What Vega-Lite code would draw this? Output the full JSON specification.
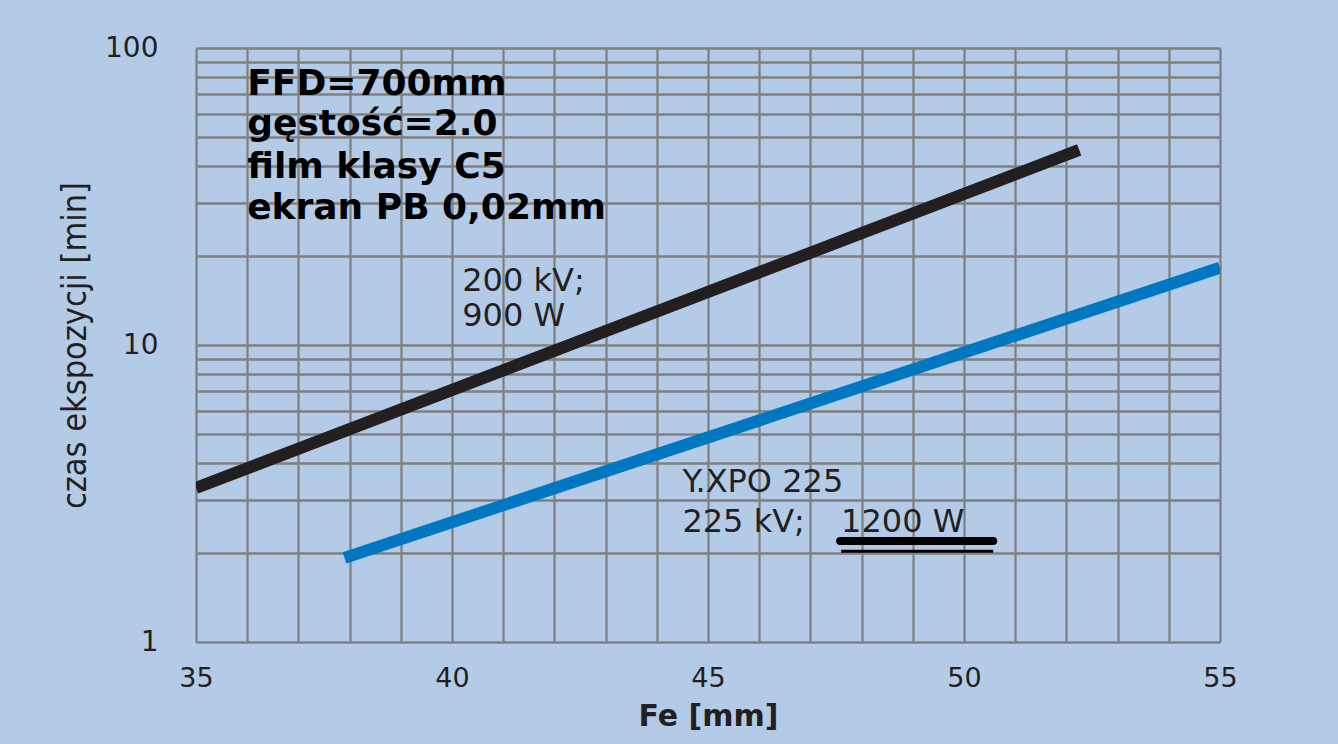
{
  "$schema": "https://vega.github.io/schema/vega-lite/v6.json",
  "width": 1024,
  "height": 594,
  "autosize": {"type": "none"},
  "padding": {"left": 196, "top": 48, "right": 118, "bottom": 102},
  "background": "#b4cbe7",
  "config": {"view": {"stroke": null}, "font": "DejaVu Sans"},
  "datasets": {
    "curves": [
      {"series": "200 kV; 900 W", "fe": 35, "t": 3.3},
      {"series": "200 kV; 900 W", "fe": 52.25, "t": 45.4},
      {"series": "Y.XPO 225; 225 kV; 1200 W", "fe": 37.9, "t": 1.92},
      {"series": "Y.XPO 225; 225 kV; 1200 W", "fe": 55, "t": 18.2}
    ],
    "box": [
      {"label": "FFD=700mm", "fe": 36, "t": 75.9},
      {"label": "gęstość=2.0", "fe": 36, "t": 55.5},
      {"label": "film klasy C5", "fe": 36, "t": 39.7},
      {"label": "ekran PB 0,02mm", "fe": 36, "t": 28.9}
    ],
    "notes": [
      {"label": "200 kV;", "fe": 40.2, "t": 16.4},
      {"label": "900 W", "fe": 40.2, "t": 12.5},
      {"label": "Y.XPO 225", "fe": 44.5, "t": 3.46},
      {"label": "225 kV;", "fe": 44.5, "t": 2.54},
      {"label": "1200 W", "fe": 47.6, "t": 2.54}
    ],
    "underline": [
      {"kind": "thick", "fe": 47.58, "fe2": 50.57, "t": 2.19},
      {"kind": "thin", "fe": 47.6, "fe2": 50.57, "t": 2.02}
    ]
  },
  "encoding": {
    "x": {
      "field": "fe",
      "type": "quantitative",
      "title": "Fe [mm]",
      "scale": {"domain": [35, 55], "nice": false, "zero": false},
      "axis": {
        "values": [35, 36, 37, 38, 39, 40, 41, 42, 43, 44, 45, 46, 47, 48, 49, 50, 51, 52, 53, 54, 55],
        "labelExpr": "datum.value % 5 === 0 ? datum.label : ''",
        "grid": true,
        "gridColor": "#808080",
        "gridWidth": 2.3,
        "gridOpacity": 1,
        "ticks": false,
        "domain": false,
        "labelFont": "DejaVu Sans",
        "labelFontSize": 27,
        "labelColor": "#231f20",
        "labelPadding": 23,
        "labelOverlap": false,
        "labelFlush": false,
        "titleFont": "DejaVu Sans",
        "titleFontWeight": "bold",
        "titleFontSize": 30,
        "titleColor": "#231f20",
        "titlePadding": 10
      }
    },
    "y": {
      "field": "t",
      "type": "quantitative",
      "title": "czas ekspozycji [min]",
      "scale": {"type": "log", "domain": [1, 100], "nice": false},
      "axis": {
        "values": [1, 2, 3, 4, 5, 6, 7, 8, 9, 10, 20, 30, 40, 50, 60, 70, 80, 90, 100],
        "format": "d",
        "labelExpr": "datum.value === 1 || datum.value === 10 || datum.value === 100 ? datum.label : ''",
        "grid": true,
        "gridColor": "#808080",
        "gridWidth": 2.7,
        "gridOpacity": 1,
        "ticks": false,
        "domain": false,
        "labelFont": "DejaVu Sans",
        "labelFontSize": 28,
        "labelColor": "#231f20",
        "labelPadding": 38,
        "labelOverlap": false,
        "labelFlush": false,
        "titleFont": "DejaVu Sans Condensed",
        "titleFontWeight": "normal",
        "titleFontSize": 34,
        "titleColor": "#231f20",
        "titlePadding": 12
      }
    }
  },
  "layer": [
    {
      "data": {"name": "curves"},
      "mark": {"type": "line", "strokeWidth": 12, "strokeCap": "butt", "clip": true},
      "encoding": {
        "color": {
          "field": "series",
          "type": "nominal",
          "scale": {"domain": ["200 kV; 900 W", "Y.XPO 225; 225 kV; 1200 W"], "range": ["#231f20", "#0077c0"]},
          "legend": null
        }
      }
    },
    {
      "data": {"name": "box"},
      "mark": {"type": "text", "font": "DejaVu Sans", "fontWeight": "bold", "fontSize": 36, "align": "left", "baseline": "middle", "color": "#000000"},
      "encoding": {"text": {"field": "label", "type": "nominal"}}
    },
    {
      "data": {"name": "notes"},
      "mark": {"type": "text", "font": "DejaVu Sans", "fontSize": 32, "align": "left", "baseline": "middle", "color": "#231f20"},
      "encoding": {"text": {"field": "label", "type": "nominal"}}
    },
    {
      "data": {"name": "underline"},
      "transform": [{"filter": "datum.kind === 'thick'"}],
      "mark": {"type": "rule", "strokeWidth": 8, "strokeCap": "round", "color": "#000000"},
      "encoding": {"x2": {"field": "fe2"}}
    },
    {
      "data": {"name": "underline"},
      "transform": [{"filter": "datum.kind === 'thin'"}],
      "mark": {"type": "rule", "strokeWidth": 3, "color": "#000000"},
      "encoding": {"x2": {"field": "fe2"}}
    }
  ]
}
